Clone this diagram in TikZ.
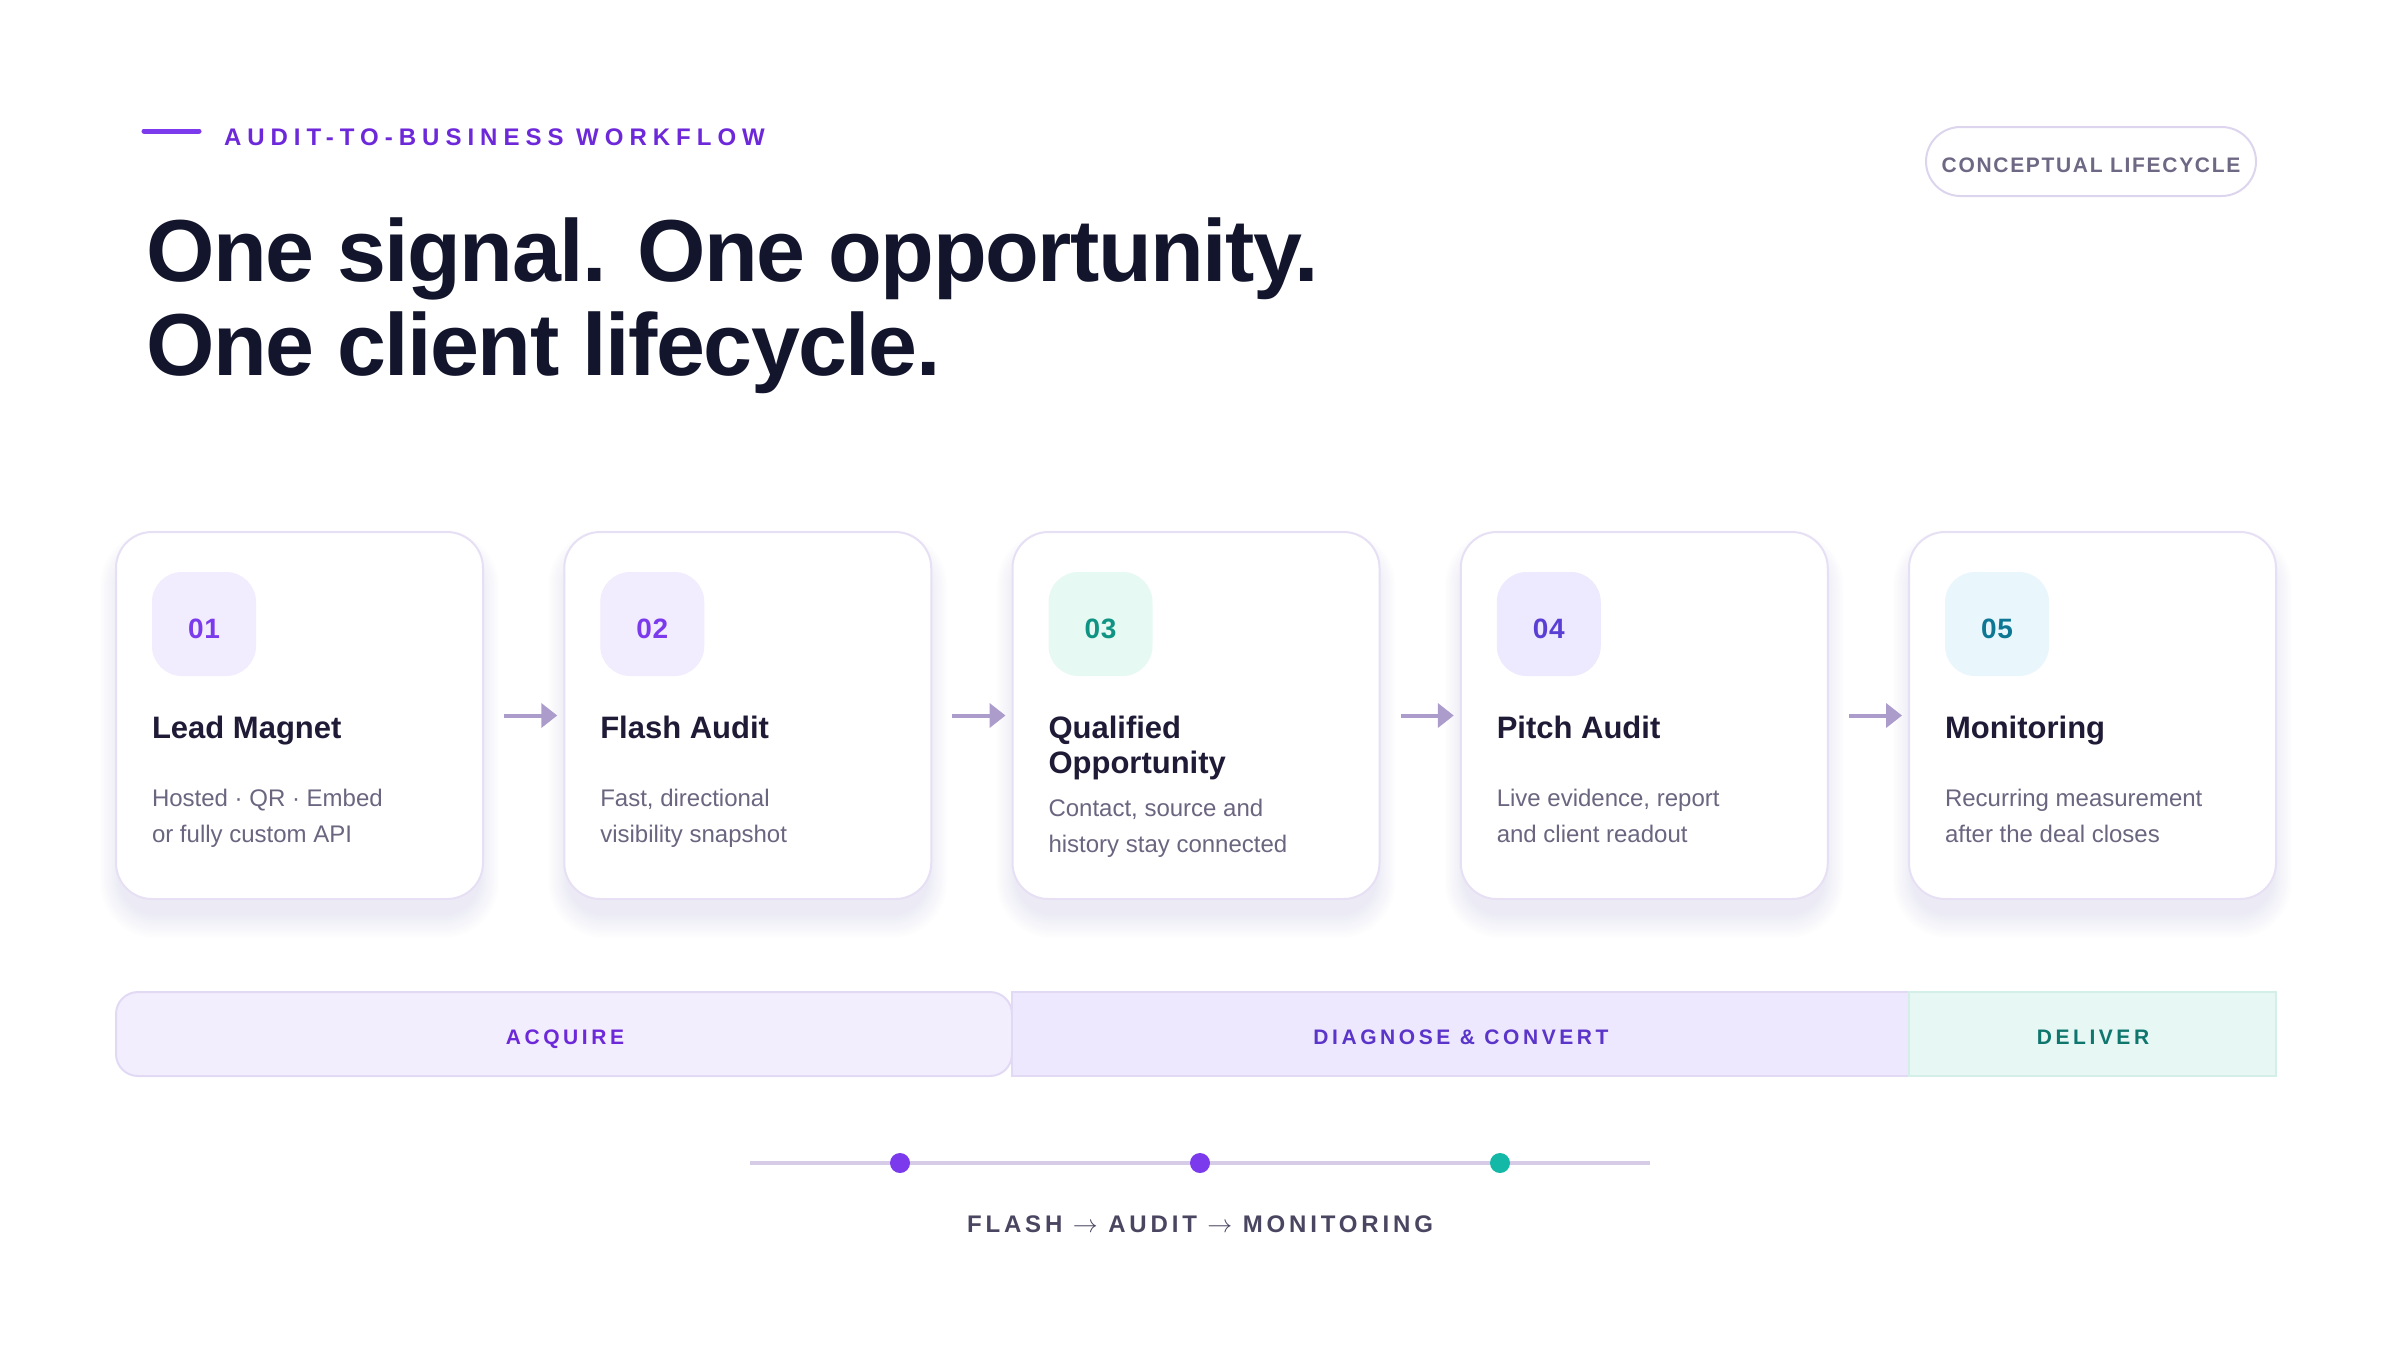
\documentclass[tikz,border=0pt]{standalone}
\usepackage{fontspec}
\setmainfont{Liberation Sans}
\usetikzlibrary{arrows.meta}
\definecolor{hdr}{HTML}{6D28D9}
\definecolor{hdrline}{HTML}{7C3AED}
\definecolor{titlecol}{HTML}{12152B}
\definecolor{cardtitle}{HTML}{1F1B36}
\definecolor{desccol}{HTML}{6B6580}
\definecolor{cardborder}{HTML}{E7E0F4}
\definecolor{shadowcol}{HTML}{6E6590}
\definecolor{badgeA}{HTML}{F1ECFE}
\definecolor{numA}{HTML}{7C3AED}
\definecolor{badgeC}{HTML}{E6F9F3}
\definecolor{numC}{HTML}{0F9483}
\definecolor{badgeD}{HTML}{EDE9FE}
\definecolor{numD}{HTML}{5B3FD4}
\definecolor{badgeE}{HTML}{E9F7FD}
\definecolor{numE}{HTML}{0E7894}
\definecolor{arrowcol}{HTML}{AB9CCB}
\definecolor{acqfill}{HTML}{F2EEFD}
\definecolor{acqtext}{HTML}{6D28D9}
\definecolor{phaseborder}{HTML}{E2DAF5}
\definecolor{diafill}{HTML}{EDE8FE}
\definecolor{diatext}{HTML}{5B34C9}
\definecolor{delfill}{HTML}{E6F7F4}
\definecolor{delborder}{HTML}{D3EFE8}
\definecolor{deltext}{HTML}{0F766E}
\definecolor{tlcol}{HTML}{D6CCE8}
\definecolor{dotA}{HTML}{7C3AED}
\definecolor{dotC}{HTML}{14B8A6}
\definecolor{bottomtext}{HTML}{4A4560}
\definecolor{pillborder}{HTML}{DDD5EE}
\definecolor{pilltext}{HTML}{6E6884}
\begin{document}
\begin{tikzpicture}[x=1pt,y=-1pt,
  txt/.style={inner sep=0pt, outer sep=0pt},
  cardbox/.style={draw=cardborder, line width=2pt, fill=white, rounded corners=36pt,
    minimum width=367pt, minimum height=367pt, inner sep=0pt},
  badgebox/.style={rounded corners=30pt, minimum width=104pt, minimum height=104pt, inner sep=0pt},
  numtxt/.style={txt, anchor=base, font=\fontsize{28}{28}\selectfont\bfseries\addfontfeatures{LetterSpace=2}},
  cardttl/.style={txt, anchor=base west, text=cardtitle, font=\fontsize{31}{35}\selectfont\bfseries},
  carddesc/.style={txt, anchor=base west, text=desccol, font=\fontsize{24}{37}\selectfont},
  flow/.style={draw=arrowcol, line width=4pt, shorten <=20pt, shorten >=6pt,
    -{Triangle[length=16pt,width=24pt]}},
  phasebox/.style={line width=2pt, minimum height=84pt, inner sep=0pt},
  phasetxt/.style={txt, anchor=base, font=\fontsize{21}{21}\selectfont\bfseries\addfontfeatures{LetterSpace=17}},
  dotnode/.style={circle, minimum size=20pt, inner sep=0pt}
]
\useasboundingbox (0,0) rectangle (2400,1350);
\fill[white] (0,0) rectangle (2400,1350);

% header
\coordinate (hlA) at (144,131);
\coordinate (hlB) at (199,131);
\draw[hdrline, line width=5pt, line cap=round] (hlA) -- (hlB);
\node[txt, anchor=base west, text=hdr, font=\fontsize{24}{24}\selectfont\bfseries\addfontfeatures{LetterSpace=25}] (kicker) at (224,145) {AUDIT-TO-BUSINESS WORKFLOW};

\node[txt, anchor=base west, text=titlecol, font=\fontsize{88}{94}\selectfont\bfseries\addfontfeatures{LetterSpace=-1.7}] (title1) at (146,281) {One signal. One opportunity.};
\node[txt, anchor=base west, text=titlecol, font=\fontsize{88}{94}\selectfont\bfseries\addfontfeatures{LetterSpace=-1.7}] (title2) at (146,375) {One client lifecycle.};

% pill
\node[draw=pillborder, line width=2pt, fill=white, rounded corners=34.5pt, minimum width=330pt, minimum height=69pt, inner sep=0pt] (lifecycle) at (2091,161.5) {};
\node[txt, anchor=base, text=pilltext, font=\fontsize{21}{21}\selectfont\bfseries\addfontfeatures{LetterSpace=8}] (lifecycletxt) at (2091,172.5) {CONCEPTUAL LIFECYCLE};

% cards
\foreach \i/\bb/\bf in {1/badgeA/numA, 2/badgeA/numA, 3/badgeC/numC, 4/badgeD/numD, 5/badgeE/numE}{
  \pgfmathsetmacro\L{116+448.25*(\i-1)}
  \foreach \k in {1,...,10}{
    \pgfmathsetmacro\rr{36+2*\k}
    \fill[shadowcol, fill opacity=0.007, rounded corners=\rr pt]
      (\L+4-2*\k, 532+18-2*\k) rectangle (\L+363+2*\k, 899+14+2.5*\k);
  }
  \node[cardbox] (card\i) at (\L+183.5, 715.5) {};
  \node[badgebox, fill=\bb] (badge\i) at (\L+88, 624) {};
  \node[numtxt, text=\bf] (num\i) at (\L+88, 638.5) {0\i};
}

\foreach \a/\b in {1/2, 2/3, 3/4, 4/5}{
  \draw[flow] (card\a.east) -- (card\b.west);
}

% card texts
\node[cardttl] (t1) at (152,738) {Lead Magnet};
\node[carddesc] (d1a) at (152,806) {Hosted · QR · Embed};
\node[carddesc] (d1b) at (152,842) {or fully custom API};

\node[cardttl] (t2) at (600.25,738) {Flash Audit};
\node[carddesc] (d2a) at (600.25,806) {Fast, directional};
\node[carddesc] (d2b) at (600.25,842) {visibility snapshot};

\node[cardttl] (t3a) at (1048.5,738) {Qualified};
\node[cardttl] (t3b) at (1048.5,773) {Opportunity};
\node[carddesc] (d3a) at (1048.5,816) {Contact, source and};
\node[carddesc] (d3b) at (1048.5,852) {history stay connected};

\node[cardttl] (t4) at (1496.75,738) {Pitch Audit};
\node[carddesc] (d4a) at (1496.75,806) {Live evidence, report};
\node[carddesc] (d4b) at (1496.75,842) {and client readout};

\node[cardttl] (t5) at (1945,738) {Monitoring};
\node[carddesc] (d5a) at (1945,806) {Recurring measurement};
\node[carddesc] (d5b) at (1945,842) {after the deal closes};

% phases
\node[phasebox, draw=phaseborder, fill=acqfill, rounded corners=22pt, minimum width=896pt] (acquire) at (564,1034) {};
\node[phasebox, draw=phaseborder, fill=diafill, minimum width=897pt] (diagnose) at (1460.5,1034) {};
\node[phasebox, draw=delborder, fill=delfill, minimum width=367pt] (deliver) at (2092.5,1034) {};
\node[phasetxt, text=acqtext] (acquiretxt) at (565,1044) {ACQUIRE};
\node[phasetxt, text=diatext] (diagnosetxt) at (1461,1044) {DIAGNOSE \& CONVERT};
\node[phasetxt, text=deltext] (delivertxt) at (2093,1044) {DELIVER};

% timeline
\coordinate (tlA) at (750,1163);
\coordinate (tlB) at (1650,1163);
\draw[tlcol, line width=4pt] (tlA) -- (tlB);
\node[dotnode, fill=dotA] (dot1) at (900,1163) {};
\node[dotnode, fill=dotA] (dot2) at (1200,1163) {};
\node[dotnode, fill=dotC] (dot3) at (1500,1163) {};
\node[txt, anchor=base, text=bottomtext, font=\fontsize{24}{24}\selectfont\bfseries\addfontfeatures{LetterSpace=16}] (cycle) at (1200,1232) {FLASH $\rightarrow$ AUDIT $\rightarrow$ MONITORING};
\end{tikzpicture}
\end{document}
